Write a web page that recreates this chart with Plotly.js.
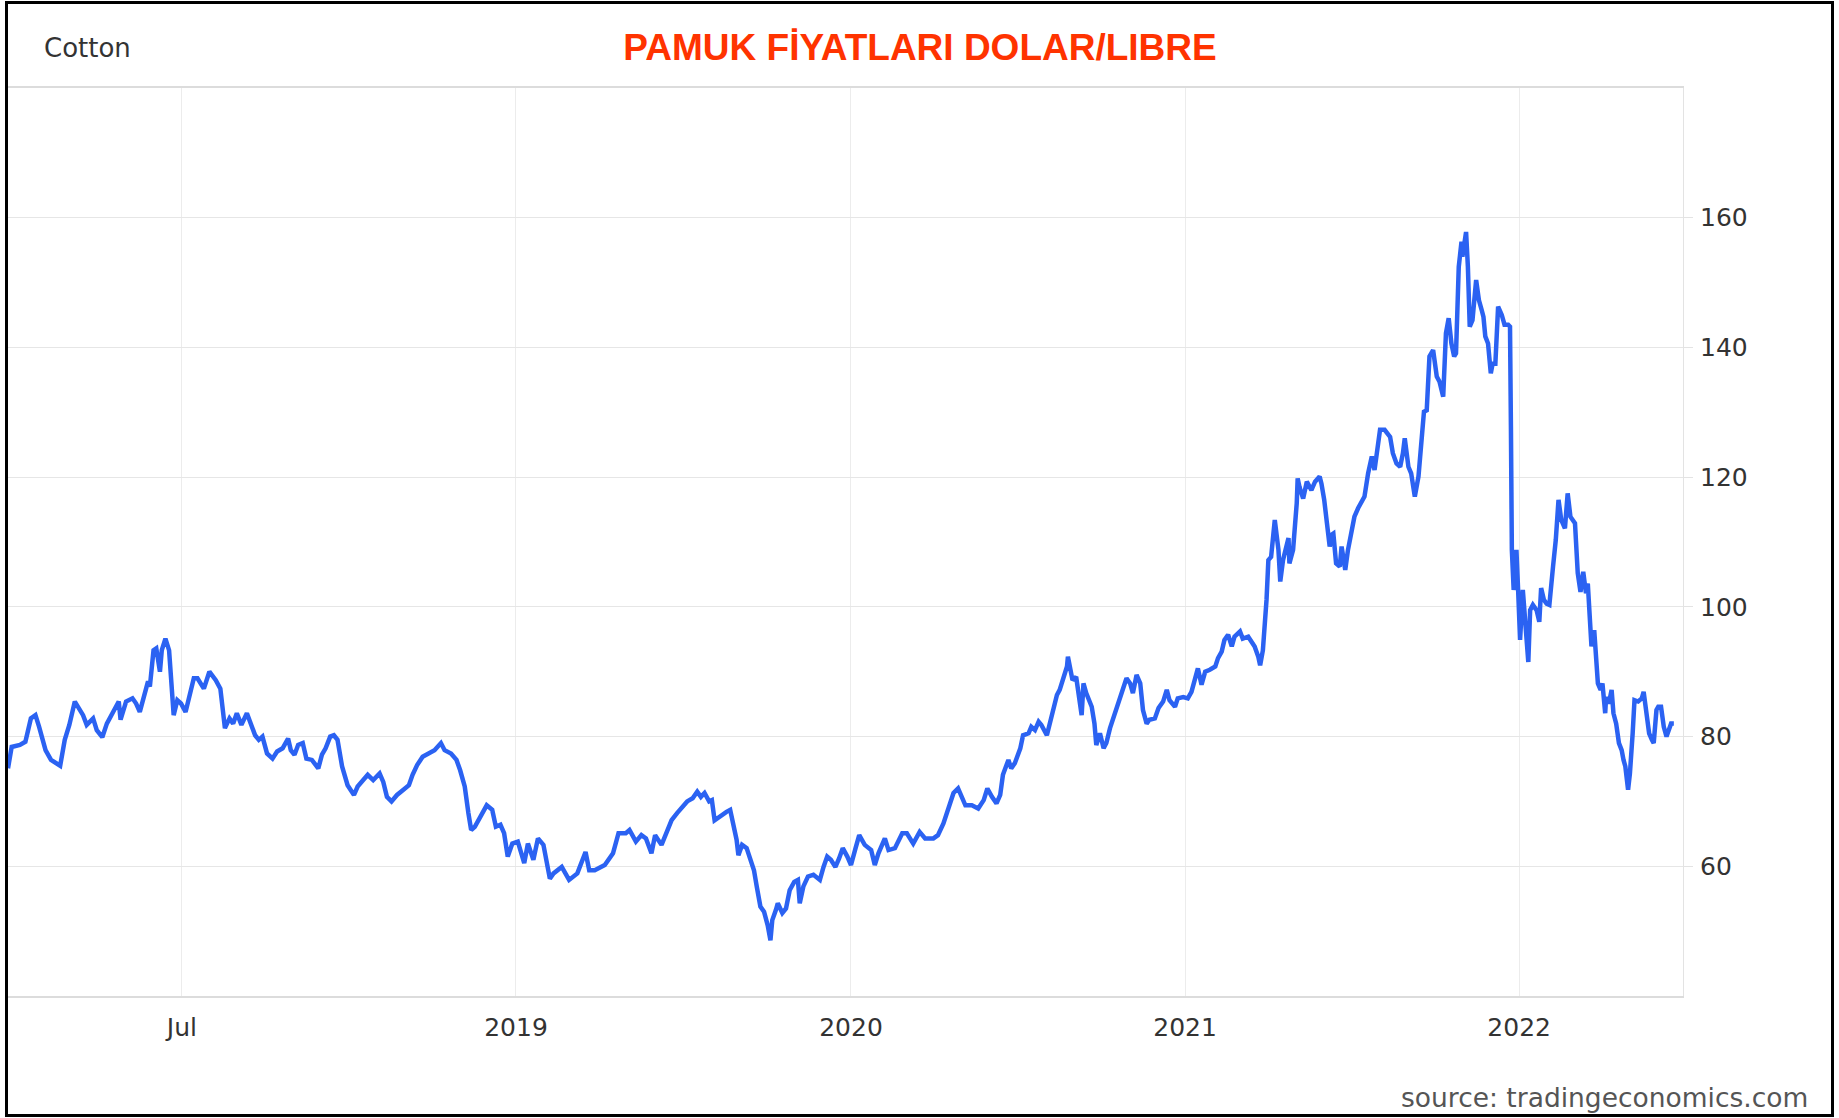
<!DOCTYPE html>
<html>
<head>
<meta charset="utf-8">
<script src="https://cdn.plot.ly/plotly-3.0.1.min.js"></script>
<style>
  html, body { margin: 0; padding: 0; background: #fff; }
  #wrap { position: relative; width: 1839px; height: 1118px; overflow: hidden; }
  #chart { position: absolute; left: 0; top: 0; width: 1839px; height: 1118px; }
  #frame { position: absolute; left: 5px; top: 1px; width: 1829px; height: 1116px;
           box-sizing: border-box; border: 3px solid #000; pointer-events: none; }
</style>
</head>
<body>
<div id="wrap">
  <div id="chart"></div>
  <div id="frame"></div>
</div>
<script>
// ---- Data ----
const dates2018 = ['2017-12-23','2017-12-27','2018-01-05','2018-01-11','2018-01-17','2018-01-22','2018-01-26','2018-02-02','2018-02-08','2018-02-18','2018-02-23','2018-02-28','2018-03-06','2018-03-10','2018-03-15','2018-03-19','2018-03-26','2018-03-30','2018-04-05','2018-04-10','2018-04-16','2018-04-23','2018-04-25','2018-05-01','2018-05-08','2018-05-12','2018-05-16','2018-05-21','2018-05-25','2018-05-27','2018-05-31','2018-06-03','2018-06-07','2018-06-09','2018-06-13','2018-06-17','2018-06-20','2018-06-22','2018-06-26','2018-06-30','2018-07-05','2018-07-10','2018-07-14','2018-07-18','2018-07-25','2018-07-31','2018-08-07','2018-08-12','2018-08-15','2018-08-17','2018-08-22','2018-08-26','2018-08-30','2018-09-04','2018-09-10','2018-09-14','2018-09-19','2018-09-23','2018-09-27','2018-10-02','2018-10-08','2018-10-13','2018-10-19','2018-10-25','2018-10-28','2018-11-01','2018-11-05','2018-11-10','2018-11-14','2018-11-20','2018-11-27','2018-12-01','2018-12-05','2018-12-10','2018-12-14','2018-12-18','2018-12-23','2018-12-29'];
const price2018 = [75.1,78.4,78.7,79.2,82.8,83.3,81.5,77.9,76.4,75.5,79.5,81.8,85.4,84.6,83.3,81.8,82.8,81.0,79.9,82.0,83.6,85.4,82.6,85.4,85.9,85.1,83.8,86.1,88.5,87.7,93.3,93.6,90.0,93.3,95.1,93.3,86.7,83.3,85.6,85.1,83.8,86.4,89.0,89.0,87.4,90.0,88.7,87.4,83.1,81.3,82.8,82.0,83.6,81.8,83.6,82.0,80.2,79.5,80.0,77.4,76.6,77.7,78.2,79.7,77.9,77.2,78.7,79.0,76.6,76.4,75.1,77.2,78.2,80.0,80.2,79.5,75.4,72.5];

const dates2019 = ['2019-01-05','2019-01-09','2019-01-13','2019-01-20','2019-01-26','2019-02-02','2019-02-06','2019-02-10','2019-02-15','2019-02-21','2019-02-28','2019-03-06','2019-03-10','2019-03-15','2019-03-21','2019-03-28','2019-04-03','2019-04-10','2019-04-14','2019-04-21','2019-04-27','2019-05-01','2019-05-06','2019-05-10','2019-05-13','2019-05-17','2019-05-23','2019-05-30','2019-06-05','2019-06-09','2019-06-14','2019-06-18','2019-06-22','2019-06-27','2019-07-03','2019-07-10','2019-07-14','2019-07-20','2019-07-25','2019-07-31','2019-08-07','2019-08-11','2019-08-20','2019-08-28','2019-09-06','2019-09-15','2019-09-19','2019-09-25','2019-10-06','2019-10-15','2019-10-21','2019-10-29','2019-11-02','2019-11-09','2019-11-15','2019-11-20','2019-11-26','2019-11-30','2019-12-07','2019-12-13','2019-12-18','2019-12-24','2019-12-31'];
const price2019 = [71.0,72.3,73.0,74.1,73.3,74.3,73.0,70.7,70.0,71.0,71.8,72.5,74.1,75.6,76.9,77.4,77.9,79.0,77.9,77.4,76.4,74.8,72.3,68.2,65.6,66.1,67.6,69.4,68.7,66.1,66.4,65.1,61.5,63.5,63.8,60.5,63.5,61.0,64.3,63.3,58.1,58.9,59.9,57.9,58.9,62.2,59.4,59.4,60.2,62.0,65.1,65.1,65.6,63.8,64.8,64.3,62.0,64.8,63.3,65.6,67.1,68.2,69.4];

const dates2020 = ['2020-01-04','2020-01-10','2020-01-15','2020-01-19','2020-01-23','2020-01-28','2020-01-31','2020-02-03','2020-02-10','2020-02-16','2020-02-20','2020-02-23','2020-02-25','2020-02-27','2020-02-29','2020-03-04','2020-03-09','2020-03-13','2020-03-17','2020-03-20','2020-03-24','2020-03-28','2020-04-01','2020-04-04','2020-04-06','2020-04-10','2020-04-12','2020-04-17','2020-04-21','2020-04-25','2020-04-30','2020-05-04','2020-05-06','2020-05-10','2020-05-15','2020-05-21','2020-05-28','2020-06-01','2020-06-05','2020-06-09','2020-06-14','2020-06-18','2020-06-22','2020-06-27','2020-07-01','2020-07-06','2020-07-10','2020-07-16','2020-07-23','2020-07-27','2020-07-31','2020-08-07','2020-08-11','2020-08-18','2020-08-22','2020-08-26','2020-08-31','2020-09-07','2020-09-14','2020-09-20','2020-09-29','2020-10-04','2020-10-10','2020-10-15','2020-10-21','2020-10-26','2020-10-30','2020-11-03','2020-11-10','2020-11-17','2020-11-23','2020-11-27','2020-12-02','2020-12-07','2020-12-11','2020-12-14','2020-12-20','2020-12-23','2020-12-27'];
const price2020 = [70.0,70.5,71.5,70.7,71.3,70.0,70.2,67.1,67.9,68.4,68.7,66.6,65.6,64.1,61.7,63.3,62.8,61.0,59.4,56.9,53.8,53.0,50.9,48.6,51.7,53.3,54.3,52.8,53.5,56.3,57.6,57.9,54.3,56.9,58.4,58.7,57.9,59.9,61.5,61.0,59.9,61.2,62.8,61.5,60.2,62.8,64.8,63.3,62.5,60.2,62.0,64.3,62.5,62.8,64.1,65.1,65.1,63.5,65.3,64.3,64.3,64.8,66.6,68.9,71.3,72.0,70.7,69.4,69.4,68.9,70.2,72.0,70.7,69.7,71.0,74.1,76.4,75.1,75.9];

const dates2021 = ['2021-01-02','2021-01-05','2021-01-11','2021-01-14','2021-01-18','2021-01-22','2021-01-25','2021-01-31','2021-02-03','2021-02-07','2021-02-11','2021-02-14','2021-02-18','2021-02-22','2021-02-23','2021-02-26','2021-02-28','2021-03-04','2021-03-08','2021-03-10','2021-03-12','2021-03-15','2021-03-21','2021-03-24','2021-03-26','2021-03-30','2021-04-03','2021-04-06','2021-04-10','2021-04-15','2021-04-19','2021-04-24','2021-04-28','2021-05-02','2021-05-05','2021-05-09','2021-05-13','2021-05-16','2021-05-20','2021-05-23','2021-05-29','2021-06-02','2021-06-07','2021-06-11','2021-06-14','2021-06-20','2021-06-23','2021-06-29','2021-07-04','2021-07-08','2021-07-12','2021-07-15','2021-07-19','2021-07-23','2021-07-28','2021-08-03','2021-08-06','2021-08-10','2021-08-13','2021-08-17','2021-08-21','2021-08-24','2021-08-30','2021-09-02','2021-09-08','2021-09-12','2021-09-15','2021-09-19','2021-09-21','2021-09-24','2021-09-26','2021-09-28','2021-09-30','2021-10-03','2021-10-07','2021-10-09','2021-10-11','2021-10-13','2021-10-16','2021-10-20','2021-10-22','2021-10-23','2021-10-27','2021-10-31','2021-11-01','2021-11-03','2021-11-07','2021-11-11','2021-11-16','2021-11-20','2021-11-25','2021-11-27','2021-11-30','2021-12-03','2021-12-06','2021-12-08','2021-12-10','2021-12-13','2021-12-17','2021-12-19','2021-12-23','2021-12-26','2021-12-30'];
const price2021 = [78.2,80.2,80.5,81.5,81.0,82.3,81.8,80.2,82.0,84.1,86.4,87.2,89.2,90.8,92.3,90.3,88.7,89.2,85.6,83.3,88.2,86.7,84.6,82.0,78.7,80.5,78.2,79.0,81.3,83.6,85.1,87.7,89.0,88.2,86.7,89.5,88.2,84.1,82.0,82.6,82.8,84.4,85.4,87.2,85.6,84.6,85.9,86.1,85.9,86.9,88.7,90.5,88.0,90.0,90.3,90.8,92.1,93.1,94.9,95.7,93.9,95.4,96.2,95.1,95.4,94.6,93.9,92.3,91.0,93.3,96.4,101.1,107.2,107.7,113.4,111.3,108.8,103.9,107.2,109.5,110.6,106.7,108.8,116.0,119.8,118.5,116.7,119.3,118.0,119.3,120.1,119.0,116.5,112.9,109.3,111.1,111.3,106.7,106.2,109.3,105.7,108.8,111.3];

const dates2022 = ['2022-01-02','2022-01-06','2022-01-10','2022-01-13','2022-01-17','2022-01-21','2022-01-24','2022-01-30','2022-02-04','2022-02-10','2022-02-13','2022-02-17','2022-02-21','2022-02-24','2022-02-26','2022-03-02','2022-03-05','2022-03-09','2022-03-13','2022-03-16','2022-03-19','2022-03-22','2022-03-25','2022-03-29','2022-04-02','2022-04-05','2022-04-09','2022-04-12','2022-04-15','2022-04-18','2022-04-21','2022-04-23','2022-04-26','2022-04-29','2022-04-30','2022-05-04','2022-05-06','2022-05-08','2022-05-11','2022-05-15','2022-05-18','2022-05-21','2022-05-23','2022-05-25','2022-05-28','2022-05-31','2022-06-02','2022-06-05','2022-06-08','2022-06-12','2022-06-15','2022-06-19','2022-06-21','2022-06-22','2022-06-23','2022-06-25','2022-06-28','2022-06-30','2022-07-02','2022-07-05','2022-07-09','2022-07-11','2022-07-13','2022-07-16','2022-07-20','2022-07-23','2022-07-25','2022-07-28','2022-07-31','2022-08-03','2022-08-07','2022-08-10','2022-08-13','2022-08-16','2022-08-20','2022-08-23','2022-08-26','2022-08-31','2022-09-03','2022-09-06','2022-09-09','2022-09-12','2022-09-14','2022-09-16','2022-09-18','2022-09-21','2022-09-23','2022-09-25','2022-09-28','2022-09-30','2022-10-03','2022-10-04','2022-10-07','2022-10-10','2022-10-12','2022-10-15','2022-10-18','2022-10-21','2022-10-23','2022-10-25','2022-10-28','2022-10-30','2022-11-02','2022-11-04','2022-11-08','2022-11-12','2022-11-14','2022-11-17','2022-11-20','2022-11-23','2022-11-25','2022-11-28','2022-11-30','2022-12-03','2022-12-06','2022-12-09','2022-12-12','2022-12-14','2022-12-17'];
const price2022 = [113.9,115.2,116.2,117.0,120.6,123.2,121.1,127.3,127.3,126.2,123.7,122.1,121.6,123.7,126.0,121.6,120.6,117.0,120.1,125.7,130.1,130.3,138.6,139.6,135.5,134.7,132.4,142.2,144.5,140.6,138.6,139.1,152.4,156.3,154.0,157.8,152.4,143.2,144.2,150.4,147.3,145.8,144.7,141.7,140.6,136.0,137.5,137.5,146.3,145.0,143.5,143.5,143.2,127.8,108.8,102.6,108.8,102.1,94.9,102.6,95.9,91.5,99.5,100.3,99.5,97.7,102.9,101.1,100.5,100.3,106.2,110.3,116.5,113.4,112.1,117.5,113.9,112.9,105.2,102.3,105.4,102.1,103.6,96.9,93.9,96.4,92.3,88.2,87.2,88.2,83.6,86.1,85.1,87.2,83.6,82.0,79.0,77.9,76.4,75.4,71.8,74.3,80.5,85.6,85.4,85.9,86.9,83.6,80.5,79.5,79.0,84.1,84.6,84.6,81.5,80.0,81.5,82.0,82.0];

const xTickVals = ['2018-07-01','2019-07-01','2020-07-01','2021-07-01','2022-07-01'];
const xTickText = ['Jul','2019','2020','2021','2022'];
const yTickVals = [60, 80, 100, 120, 140, 160];
const yTickText = ['60', '80', '100', '120', '140', '160'];

const chartTitle = 'PAMUK FİYATLARI DOLAR/LIBRE';
const seriesLabel = 'Cotton';
const sourceLabel = 'source: tradingeconomics.com';

// ---- Build ----
const x = [].concat(dates2018, dates2019, dates2020, dates2021, dates2022);
const y = [].concat(price2018, price2019, price2020, price2021, price2022);

const tickFont = { family: 'DejaVu Sans, Liberation Sans, sans-serif', size: 25, color: '#333333' };

const trace = {
  type: 'scatter',
  mode: 'lines',
  x: x,
  y: y,
  line: { color: '#2b62f2', width: 4.5 },
  hoverinfo: 'skip'
};

const layout = {
  width: 1839,
  height: 1118,
  margin: { l: 8, r: 156, t: 88, b: 122, pad: 0 },
  paper_bgcolor: '#ffffff',
  plot_bgcolor: '#ffffff',
  showlegend: false,
  title: {
    text: '<b>' + chartTitle + '</b>',
    font: { family: 'Liberation Sans, Arial, sans-serif', size: 37, color: '#ff3300' },
    xref: 'container', yref: 'container',
    x: 0.5003, y: 0.958, xanchor: 'center', yanchor: 'middle'
  },
  xaxis: {
    type: 'date',
    range: ['2017-12-23', '2022-12-27'],
    tickmode: 'array',
    tickvals: xTickVals,
    ticktext: xTickText,
    showgrid: true,
    gridcolor: '#ececec',
    gridwidth: 1,
    zeroline: false,
    showline: true,
    mirror: true,
    linecolor: '#dcdcdc',
    linewidth: 2,
    ticks: '',
    tickfont: tickFont,
    ticklabelstandoff: 8,
    fixedrange: true
  },
  yaxis: {
    side: 'right',
    range: [40, 180],
    tickmode: 'array',
    tickvals: yTickVals,
    ticktext: yTickText,
    showgrid: true,
    gridcolor: '#e6e6e6',
    gridwidth: 1,
    zeroline: false,
    showline: true,
    linecolor: '#e3e3e3',
    linewidth: 1,
    ticks: 'outside',
    ticklen: 9,
    tickcolor: '#e3e3e3',
    tickfont: tickFont,
    ticklabelstandoff: 2,
    fixedrange: true
  },
  annotations: [
    {
      text: seriesLabel, showarrow: false,
      xref: 'paper', yref: 'paper', x: 0.0200, y: 1.0441,
      xanchor: 'left', yanchor: 'middle',
      font: { family: 'DejaVu Sans, Liberation Sans, sans-serif', size: 26, color: '#333333' }
    },
    {
      text: sourceLabel, showarrow: false,
      xref: 'paper', yref: 'paper', x: 1.0758, y: -0.1123,
      xanchor: 'right', yanchor: 'middle',
      font: { family: 'DejaVu Sans, Liberation Sans, sans-serif', size: 26.5, color: '#555555' }
    }
  ]
};

Plotly.newPlot('chart', [trace], layout, { displayModeBar: false, staticPlot: true });
</script>
</body>
</html>
